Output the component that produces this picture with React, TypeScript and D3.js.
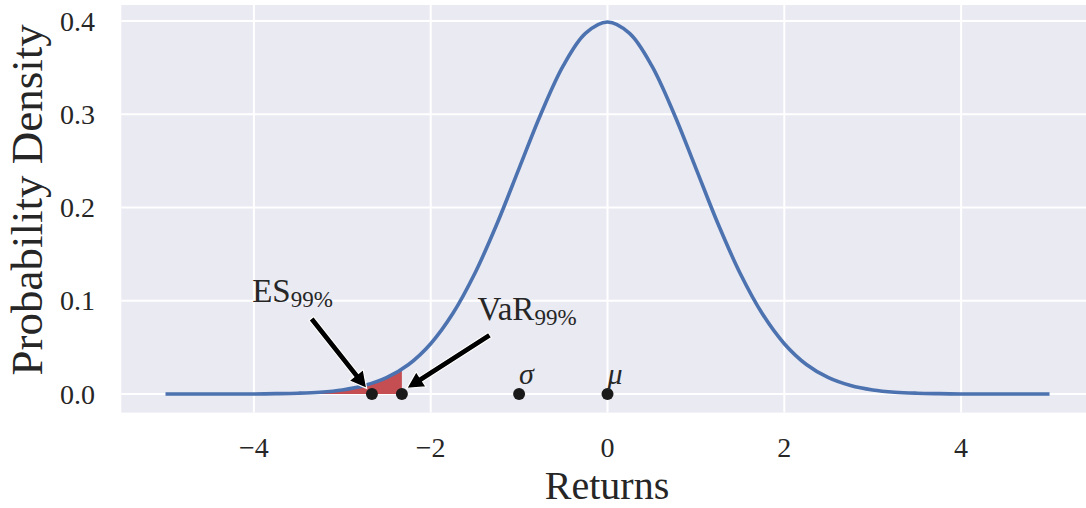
import React from "react";
import * as d3 from "d3";

// standard normal density at 0.25 steps
const returns = [
  -5, -4.75, -4.5, -4.25, -4, -3.75, -3.5, -3.25, -3, -2.75, -2.5, -2.25, -2,
  -1.75, -1.5, -1.25, -1, -0.75, -0.5, -0.25, 0, 0.25, 0.5, 0.75, 1, 1.25, 1.5,
  1.75, 2, 2.25, 2.5, 2.75, 3, 3.25, 3.5, 3.75, 4, 4.25, 4.5, 4.75, 5,
];
const density = [
  0.0, 0.0, 0.0, 0.0001, 0.0001, 0.0004, 0.0009, 0.002, 0.0044, 0.0091, 0.0175,
  0.0317, 0.054, 0.0863, 0.1295, 0.1826, 0.242, 0.3011, 0.3521, 0.3867, 0.3989,
  0.3867, 0.3521, 0.3011, 0.242, 0.1826, 0.1295, 0.0863, 0.054, 0.0317, 0.0175,
  0.0091, 0.0044, 0.002, 0.0009, 0.0004, 0.0001, 0.0001, 0.0, 0.0, 0.0,
];

const VAR_99 = -2.326;
const VAR_DENSITY = 0.0267;
const ES_99 = -2.665;

const markerNames = ["ES", "VaR", "sigma", "mu"];
const markerX = [ES_99, VAR_99, -1, 0];

const xTicks = [-4, -2, 0, 2, 4];
const yTicks = [0, 0.1, 0.2, 0.3, 0.4];

// annotations: text anchor, arrow tail and arrow tip in data units
const annoLabels = ["ES", "VaR"];
const annoText = [
  [-4.02, 0.0985],
  [-1.47, 0.079],
];
const annoTail = [
  [-3.35, 0.081],
  [-1.33, 0.0633],
];
const annoTip = [
  [-2.724, 0.006],
  [-2.271, 0.006],
];

const W = 1086;
const H = 508;
const INK = "#262626";
const FONT = "'Liberation Serif', 'DejaVu Serif', serif";

function arrowPath(x0: number, y0: number, x1: number, y1: number) {
  const dx = x1 - x0;
  const dy = y1 - y0;
  const len = Math.hypot(dx, dy);
  const ux = dx / len;
  const uy = dy / len;
  const px = -uy;
  const py = ux;
  const sw = 3; // half shaft width
  const hw = 9; // half head width
  const hl = 17; // head length
  const bx = x1 - ux * hl;
  const by = y1 - uy * hl;
  const pts = [
    [x0 + px * sw, y0 + py * sw],
    [bx + px * sw, by + py * sw],
    [bx + px * hw, by + py * hw],
    [x1, y1],
    [bx - px * hw, by - py * hw],
    [bx - px * sw, by - py * sw],
    [x0 - px * sw, y0 - py * sw],
  ];
  return "M" + pts.map((p) => p[0].toFixed(1) + "," + p[1].toFixed(1)).join("L") + "Z";
}

export default function App() {
  const x = d3.scaleLinear().domain([-5.5, 5.5]).range([121.3, 1093.7]);
  const y = d3.scaleLinear().domain([-0.0199, 0.4172]).range([412.6, 5]);

  const pts: [number, number][] = returns.map((r, i) => [r, density[i]]);
  const tail: [number, number][] = pts
    .filter((p) => p[0] < VAR_99)
    .concat([[VAR_99, VAR_DENSITY]]);

  const line = d3
    .line<[number, number]>()
    .x((d) => x(d[0]))
    .y((d) => y(d[1]))
    .curve(d3.curveCatmullRom);
  const area = d3
    .area<[number, number]>()
    .x((d) => x(d[0]))
    .y0(y(0))
    .y1((d) => y(d[1]))
    .curve(d3.curveCatmullRom);

  const left = x.range()[0];
  const top = y.range()[1];
  const bottom = y.range()[0];

  return (
    <svg
      width={W}
      height={H}
      style={{ position: "absolute", left: 0, top: 0 }}
      fontFamily={FONT}
    >
      <rect x={0} y={0} width={W} height={H} fill="#fff" />
      <rect x={left} y={top} width={W - left} height={bottom - top} fill="#EAEAF2" />

      {yTicks.map((t) => (
        <g key={"y" + t}>
          <line x1={left} x2={W} y1={y(t)} y2={y(t)} stroke="#fff" strokeWidth={2} />
          <text
            x={95}
            y={y(t)}
            dy="0.34em"
            textAnchor="end"
            fontSize={28}
            fill={INK}
          >
            {t.toFixed(1)}
          </text>
        </g>
      ))}
      {xTicks.map((t) => (
        <g key={"x" + t}>
          <line x1={x(t)} x2={x(t)} y1={top} y2={bottom} stroke="#fff" strokeWidth={2} />
          <text x={x(t)} y={457} textAnchor="middle" fontSize={28} fill={INK}>
            {t < 0 ? "\u2212" + Math.abs(t) : String(t)}
          </text>
        </g>
      ))}

      <path d={area(tail) || ""} fill="#C44E52" />
      <path
        d={line(pts) || ""}
        fill="none"
        stroke="#4C72B0"
        strokeWidth={3.6}
      />

      {markerX.map((m, i) => (
        <circle key={markerNames[i]} cx={x(m)} cy={y(0)} r={6} fill="#1a1a1a" />
      ))}
      <text x={x(-1)} y={y(0.0105)} fontSize={30} fontStyle="italic" fill={INK}>
        σ
      </text>
      <text x={x(0)} y={y(0.0105)} fontSize={30} fontStyle="italic" fill={INK}>
        μ
      </text>

      {annoLabels.map((lab, i) => (
        <g key={lab}>
          <path
            d={arrowPath(
              x(annoTail[i][0]),
              y(annoTail[i][1]),
              x(annoTip[i][0]),
              y(annoTip[i][1])
            )}
            fill="#000"
            stroke="#fff"
            strokeWidth={1.2}
            strokeLinejoin="miter"
          />
          <text x={x(annoText[i][0])} y={y(annoText[i][1])} fontSize={33} fill={INK}>
            {lab}
            <tspan fontSize={23} dy={5}>
              99%
            </tspan>
          </text>
        </g>
      ))}

      <text x={607} y={499} textAnchor="middle" fontSize={40} fill={INK}>
        Returns
      </text>
      <text
        transform={`translate(42,${(top + bottom) / 2 - 9}) rotate(-90)`}
        textAnchor="middle"
        fontSize={45}
        fill={INK}
      >
        Probability Density
      </text>
    </svg>
  );
}
